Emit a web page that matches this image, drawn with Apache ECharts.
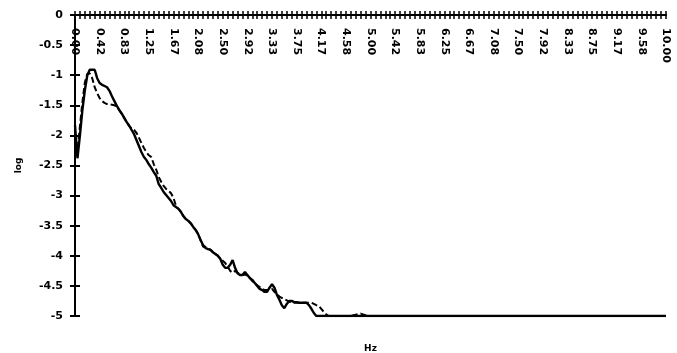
<!DOCTYPE html>
<html>
<head>
<meta charset="utf-8">
<script src="https://cdn.jsdelivr.net/npm/echarts@6/dist/echarts.min.js"></script>
<style>html,body{margin:0;padding:0;background:#fff}#c{width:677px;height:353px}</style>
</head>
<body>
<div id="c"></div>
<script>
// Frequency categories (Hz): 241 bins, 0.00 .. 10.00
var categories = [];
for (var k = 0; k <= 240; k++) categories.push((k * 10 / 240).toFixed(2));

// Solid series (log), bins 0..98, then flat at -5 to the last bin
var solidVals = [
  -1.83, -2.38, -2.0, -1.58, -1.25, -1.0, -0.91, -0.91, -0.91, -1.05,
  -1.13, -1.16, -1.18, -1.2, -1.26, -1.35, -1.43, -1.51, -1.58, -1.64,
  -1.71, -1.78, -1.84, -1.91, -1.98, -2.08, -2.18, -2.28, -2.36, -2.41,
  -2.48, -2.54, -2.61, -2.67, -2.81, -2.87, -2.94, -2.99, -3.04, -3.09,
  -3.16, -3.19, -3.22, -3.27, -3.34, -3.39, -3.42, -3.46, -3.52, -3.57,
  -3.64, -3.74, -3.82, -3.87, -3.89, -3.9, -3.94, -3.97, -4.0, -4.05,
  -4.15, -4.2, -4.2, -4.15, -4.07, -4.2, -4.29, -4.32, -4.32, -4.27,
  -4.32, -4.37, -4.4, -4.45, -4.5, -4.55, -4.57, -4.6, -4.6, -4.53,
  -4.47, -4.53, -4.65, -4.73, -4.82, -4.87, -4.8, -4.75, -4.75, -4.77,
  -4.77, -4.78, -4.78, -4.78, -4.78, -4.82, -4.88, -4.95, -5
];
var solidTail = [[240, -5]];

// Dashed series (log), bins 0..103, then flat at -5 with a small bump
var dashedVals = [
  -2.0, -2.25, -1.85, -1.45, -1.12, -0.98, -0.97, -1.05, -1.2, -1.3,
  -1.38, -1.43, -1.46, -1.48, -1.48, -1.49, -1.5, -1.52, -1.58, -1.64,
  -1.71, -1.78, -1.84, -1.89, -1.91, -1.96, -2.04, -2.13, -2.21, -2.28,
  -2.33, -2.36, -2.48, -2.57, -2.69, -2.77, -2.84, -2.89, -2.92, -2.96,
  -3.04, -3.17, -3.22, -3.27, -3.34, -3.39, -3.42, -3.46, -3.52, -3.57,
  -3.64, -3.74, -3.85, -3.85, -3.88, -3.9, -3.94, -3.97, -4.0, -4.05,
  -4.08, -4.12, -4.18, -4.25, -4.28, -4.25, -4.28, -4.3, -4.32, -4.31,
  -4.33, -4.37, -4.42, -4.45, -4.49, -4.52, -4.55, -4.57, -4.57, -4.56,
  -4.55, -4.6, -4.63, -4.68, -4.7, -4.72, -4.74, -4.76, -4.77, -4.78,
  -4.78, -4.78, -4.78, -4.78, -4.78, -4.78, -4.78, -4.8, -4.82, -4.83,
  -4.88, -4.93, -4.97, -5
];
var dashedTail = [[112, -5], [116, -4.96], [119, -5], [240, -5]];

var yMin = -5, yMax = 0, yStep = 0.5;

function toPairs(vals, tail) {
  return vals.map(function (v, i) { return [i, v]; }).concat(tail);
}

var chart = echarts.init(document.getElementById('c'), null, { renderer: 'canvas' });
var fontFam = '"DejaVu Sans", Arial, sans-serif';

chart.setOption({
  animation: false,
  backgroundColor: '#fff',
  grid: { left: 75, right: 11, top: 15, bottom: 37, containLabel: false, outerBoundsMode: 'none' },
  xAxis: [
    {
      type: 'category', data: categories, position: 'top', boundaryGap: false,
      axisLine: { onZero: false, lineStyle: { color: '#000', width: 2 } },
      axisTick: { show: true, interval: 1, length: 4, inside: false, lineStyle: { color: '#000', width: 1.5 } },
      axisLabel: {
        interval: 9, inside: true, rotate: 90, margin: 13,
        color: '#000', fontSize: 11, fontWeight: 'bold', fontFamily: fontFam
      },
      splitLine: { show: false }
    },
    {
      type: 'category', data: categories, position: 'top', boundaryGap: false,
      axisLine: { show: false, onZero: false },
      axisTick: { show: true, interval: 1, length: 4, inside: true, lineStyle: { color: '#000', width: 1.5 } },
      axisLabel: { show: false },
      splitLine: { show: false }
    },
    {
      type: 'category', data: categories, position: 'bottom', boundaryGap: false,
      axisLine: { show: false, onZero: false },
      axisTick: { show: false },
      axisLabel: { show: false },
      splitLine: { show: false },
      name: 'Hz', nameLocation: 'middle', nameGap: 28,
      nameTextStyle: { color: '#000', fontSize: 9, fontWeight: 'bold', fontFamily: fontFam }
    }
  ],
  yAxis: [
    {
      type: 'value', min: yMin, max: yMax, interval: yStep, position: 'left',
      axisLine: { show: true, onZero: false, lineStyle: { color: '#000', width: 2 } },
      axisTick: { show: true, length: 5, lineStyle: { color: '#000', width: 2 } },
      axisLabel: { margin: 12, color: '#000', fontSize: 11, fontWeight: 'bold', fontFamily: fontFam },
      splitLine: { show: false },
      name: 'log', nameLocation: 'middle', nameGap: 52,
      nameTextStyle: { color: '#000', fontSize: 9, fontWeight: 'bold', fontFamily: fontFam }
    },
    {
      type: 'value', min: yMin, max: yMax, interval: yStep, position: 'left',
      axisLine: { show: false, onZero: false },
      axisTick: { show: true, inside: true, length: 5, lineStyle: { color: '#000', width: 2 } },
      axisLabel: { show: false },
      splitLine: { show: false }
    }
  ],
  series: [
    {
      type: 'line', data: toPairs(solidVals, solidTail), xAxisIndex: 0, yAxisIndex: 0,
      showSymbol: false, symbol: 'none',
      lineStyle: { color: '#000', width: 2.4, type: 'solid' }
    },
    {
      type: 'line', data: toPairs(dashedVals, dashedTail), xAxisIndex: 0, yAxisIndex: 0,
      showSymbol: false, symbol: 'none',
      lineStyle: { color: '#000', width: 2, type: [6, 3] }
    }
  ]
});
</script>
</body>
</html>
